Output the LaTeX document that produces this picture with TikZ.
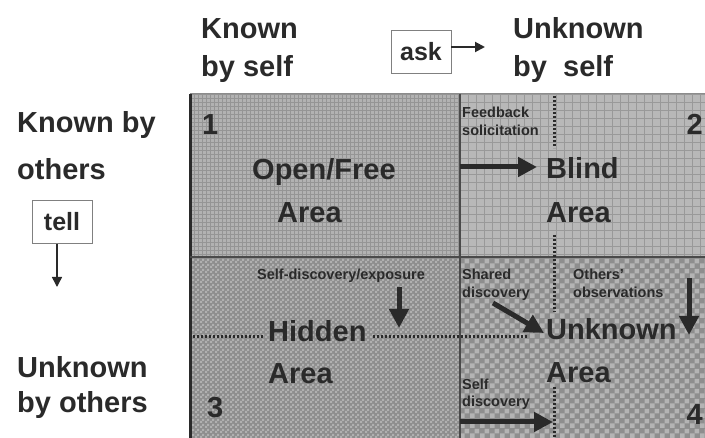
\documentclass[tikz,border=0pt]{standalone}
\usepackage{fontspec}
\setmainfont{Liberation Sans}
\usepackage{xcolor}
\usetikzlibrary{arrows.meta, patterns.meta, positioning}

\definecolor{ink}{HTML}{2A2A2A}
\definecolor{qonefill}{HTML}{B2B2B2}
\definecolor{qoneline}{HTML}{959595}
\definecolor{qtwofill}{HTML}{B8B8B8}
\definecolor{qtwoline}{HTML}{999999}
\definecolor{qthreedark}{HTML}{8E8E8E}
\definecolor{qthreelight}{HTML}{B0B0B0}
\definecolor{qfourdark}{HTML}{8E8E8E}
\definecolor{qfourlight}{HTML}{B4B4B4}

\tikzdeclarepattern{name=finecheck, type=uncolored,
  bounding box={(0pt,0pt) and (5pt,5pt)}, tile size={(5pt,5pt)},
  code={\fill (0pt,0pt) rectangle (2.5pt,2.5pt); \fill (2.5pt,2.5pt) rectangle (5pt,5pt);}}
\tikzdeclarepattern{name=bigcheck, type=uncolored,
  bounding box={(0pt,0pt) and (10pt,10pt)}, tile size={(10pt,10pt)},
  code={\fill (0pt,0pt) rectangle (5pt,5pt); \fill (5pt,5pt) rectangle (10pt,10pt);}}

\tikzset{
  bigtxt/.style={font=\fontsize{29}{34}\selectfont\bfseries, text=ink, inner sep=0pt, anchor=base west},
  smalltxt/.style={font=\fontsize{14.5}{17}\selectfont\bfseries, text=ink, inner sep=0pt, anchor=base west},
  keybox/.style={draw=black!50, line width=0.8pt, font=\fontsize{25}{30}\selectfont\bfseries, text=ink,
    minimum width=60pt, minimum height=43pt, inner sep=0pt},
  fatarrow/.style={-{Triangle[length=19pt,width=19pt]}, line width=5pt, draw=ink},
  thinarrow/.style={-{Triangle[length=10pt,width=10pt]}, line width=2pt, draw=ink},
  dotline/.style={draw=ink, line width=3pt, dash pattern=on 2.2pt off 1.8pt}
}

\begin{document}
\begin{tikzpicture}[x=1pt, y=-1pt]
	\useasboundingbox (0,0) rectangle (705,438);
	
	% Quadrant textures
	\fill[qonefill] (190,94) rectangle (460,257);
	\foreach \x in {190,194,...,458} \draw[qoneline, line width=0.5pt] (\x,94) -- (\x,257);
	\foreach \y in {94,98,...,256} \draw[qoneline, line width=0.5pt] (190,\y) -- (460,\y);
	\fill[qtwofill] (460,94) rectangle (705,257);
	\foreach \x in {460,468,...,705} \draw[qtwoline, line width=0.6pt] (\x,94) -- (\x,257);
	\foreach \y in {94,102,...,256} \draw[qtwoline, line width=0.6pt] (460,\y) -- (705,\y);
	\fill[qthreedark] (190,257) rectangle (460,438);
	\fill[pattern=finecheck, pattern color=qthreelight] (190,257) rectangle (460,438);
	\fill[qfourdark] (460,257) rectangle (705,438);
	\fill[pattern=bigcheck, pattern color=qfourlight] (460,257) rectangle (705,438);
	
	% Borders
	\draw[black!45, line width=1pt] (190,94) -- (705,94);
	\draw[ink, line width=3pt] (190,94) -- (190,438);
	\draw[ink!85, line width=1.5pt] (460,94) -- (460,438);
	\draw[ink!85, line width=1.5pt] (190,257) -- (705,257);
	
	% Headings
	\node[bigtxt] (kself) at (201,39) {Known};
	\node[bigtxt] (kself2) at (201,77) {by self};
	\node[bigtxt] (uself) at (513,39) {Unknown};
	\node[bigtxt] (uself2) at (513,77) {by~~self};
	\node[bigtxt] (kothers) at (17,133) {Known by};
	\node[bigtxt] (kothers2) at (17,180) {others};
	\node[bigtxt] (uothers) at (17,378) {Unknown};
	\node[bigtxt] (uothers2) at (17,413) {by others};
	
	\node[keybox] (ask) at (421,51.5) {ask};
	\node[keybox] (tell) at (62,222) {tell};
	\coordinate (askend) at (485,47);
	\coordinate (tellend) at (57,287);
	
	% Quadrant labels
	\node[bigtxt] (one) at (202,135) {1};
	\node[bigtxt] (open) at (252,180) {Open/Free};
	\node[bigtxt] (open2) at (277,223) {Area};
	\node[bigtxt, anchor=base east] (two) at (703,135) {2};
	\node[bigtxt] (blind) at (546,179) {Blind};
	\node[bigtxt] (blind2) at (546,223) {Area};
	\node[bigtxt] (three) at (207,418) {3};
	\node[bigtxt] (hidden) at (268,342) {Hidden};
	\node[bigtxt] (hidden2) at (268,384) {Area};
	\node[bigtxt, anchor=base east] (four) at (703,425) {4};
	\node[bigtxt] (unknown) at (546,340) {Unknown};
	\node[bigtxt] (unknown2) at (546,383) {Area};
	
	\node[smalltxt] (fb) at (462,118) {Feedback};
	\node[smalltxt] (fb2) at (462,136) {solicitation};
	\node[smalltxt] (sde) at (257,280) {Self-discovery/exposure};
	\node[smalltxt] (shd) at (462,280) {Shared};
	\node[smalltxt] (shd2) at (462,298) {discovery};
	\node[smalltxt] (obs) at (573,280) {Others'};
	\node[smalltxt] (obs2) at (573,298) {observations};
	\node[smalltxt] (sd) at (462,390) {Self};
	\node[smalltxt] (sd2) at (462,407) {discovery};
	
	% Dotted dividers
	\draw[dotline] (554,96) -- (554,148);
	\draw[dotline] (554,235) -- (554,312);
	\draw[dotline] (554,387) -- (554,438);
	\draw[dotline] (193,337) -- ([xshift=-5pt]hidden.west |- 0,337);
	\draw[dotline] ([xshift=6pt]hidden.east |- 0,337) -- (527,337);
	
	% Edges
	\coordinate (fbtail) at (460,167);
	\coordinate (fbtip) at (537,167);
	\coordinate (sdetail) at (399,287);
	\coordinate (sdetip) at (399,328);
	\coordinate (shdtail) at (493,303);
	\coordinate (shdtip) at (544,333);
	\coordinate (obstail) at (689,278);
	\coordinate (obstip) at (689,335);
	\coordinate (sdtail) at (460,422);
	\coordinate (sdtip) at (553,422);
	\draw[thinarrow] (ask.east |- askend) -- (askend);
	\draw[thinarrow, line width=1.5pt] (tell.south -| tellend) -- (tellend);
	\draw[fatarrow] (fbtail) -- (fbtip);
	\draw[fatarrow] (sdetail) -- (sdetip);
	\draw[fatarrow] (shdtail) -- (shdtip);
	\draw[fatarrow] (obstail) -- (obstip);
	\draw[fatarrow] (sdtail) -- (sdtip);
	
\end{tikzpicture}
\end{document}
